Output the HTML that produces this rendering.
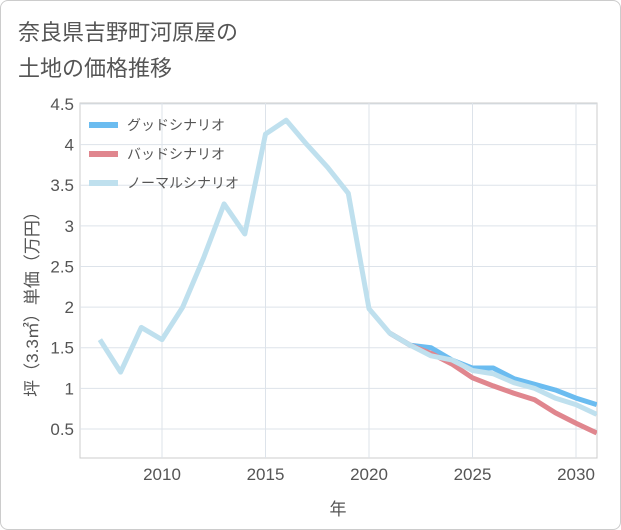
<!DOCTYPE html>
<html><head><meta charset="utf-8"><style>
body{margin:0;background:#fff;font-family:"Liberation Sans","Noto Sans CJK JP",sans-serif;}
#wrap{position:relative;width:619px;height:528px;border:1px solid #ccc;border-radius:8px;background:#fff;}
</style></head><body>
<div id="wrap">
<svg id="c" width="621" height="530" style="position:absolute;left:-1px;top:-1px"></svg>
</div>
<script>
const years=[2007,2008,2009,2010,2011,2012,2013,2014,2015,2016,2017,2018,2019,2020,2021,2022,2023,2024,2025,2026,2027,2028,2029,2030,2031];
const normal=[1.6,1.2,1.75,1.6,2.0,2.6,3.27,2.9,4.13,4.3,4.0,3.72,3.4,1.98,1.68,1.53,1.4,1.35,1.22,1.18,1.07,1.0,0.88,0.8,0.68];
const futureYears=[2021,2022,2023,2024,2025,2026,2027,2028,2029,2030,2031];
const good=[1.68,1.53,1.5,1.35,1.25,1.25,1.12,1.05,0.98,0.88,0.8];
const bad=[1.68,1.53,1.43,1.3,1.13,1.03,0.94,0.86,0.7,0.57,0.45];
const yTicks=[0.5,1,1.5,2,2.5,3,3.5,4,4.5];
const yTickLabels=["0.5","1","1.5","2","2.5","3","3.5","4","4.5"];
const xTicks=[2010,2015,2020,2025,2030];
const svg=document.getElementById('c');const NS='http://www.w3.org/2000/svg';
const L=80,R=597,T=103,B=458;
const x=v=>162+(v-2010)*20.7;
const y=v=>469.6-v*81.25;
function el(t,a,p){const e=document.createElementNS(NS,t);for(const k in a)e.setAttribute(k,a[k]);(p||svg).appendChild(e);return e;}
function txt(s,a){const e=el('text',a);e.textContent=s;return e;}
const t1=txt('奈良県吉野町河原屋の',{x:18,y:40,'font-size':22,fill:'#555'});

const t2=txt('土地の価格推移',{x:18,y:76,'font-size':22,fill:'#555'});

el('rect',{x:L,y:T,width:R-L,height:B-T,fill:'none',stroke:'#ccc'});
yTicks.forEach((v,i)=>{const g=el('line',{x1:L,x2:R,y1:y(v),y2:y(v),stroke:'#dde3ea'});
const t=txt(yTickLabels[i],{x:L-6,y:y(v)+6,'text-anchor':'end','font-size':17,fill:'#555'});});
xTicks.forEach(v=>{const g=el('line',{x1:x(v),x2:x(v),y1:T,y2:B,stroke:'#dde3ea'});
const t=txt(String(v),{x:x(v),y:480,'text-anchor':'middle','font-size':17,fill:'#555'});});
const xt=txt('年',{x:338,y:515,'text-anchor':'middle','font-size':17,fill:'#555'});
const yt=txt('坪（3.3㎡）単価（万円）',{x:0,y:0,'text-anchor':'middle','font-size':17,fill:'#555',transform:'translate(38,300) rotate(-90)'});
function line(xs,vs,c,name){const p=el('polyline',{points:xs.map((v,i)=>x(v)+','+y(vs[i])).join(' '),fill:'none',stroke:c,'stroke-width':5,'stroke-linejoin':'round'});}
const clip=el('clipPath',{id:'cp'});el('rect',{x:L,y:T,width:R-L,height:B-T},clip);
line(futureYears,good,'#6bbcf0','good-scenario-line');
line(futureYears,bad,'#e0868e','bad-scenario-line');
line(years,normal,'#bfe0ee','normal-scenario-line');
svg.querySelectorAll('polyline').forEach(p=>p.setAttribute('clip-path','url(#cp)'));
const leg=[['グッドシナリオ','#6bbcf0'],['バッドシナリオ','#e0868e'],['ノーマルシナリオ','#bfe0ee']];
leg.forEach((d,i)=>{const yy=125+i*29;const r=el('rect',{x:89,y:yy-3,width:29,height:6,fill:d[1]});
const t=txt(d[0],{x:127,y:yy+5,'font-size':14,fill:'#555'});});
</script>
</body></html>
